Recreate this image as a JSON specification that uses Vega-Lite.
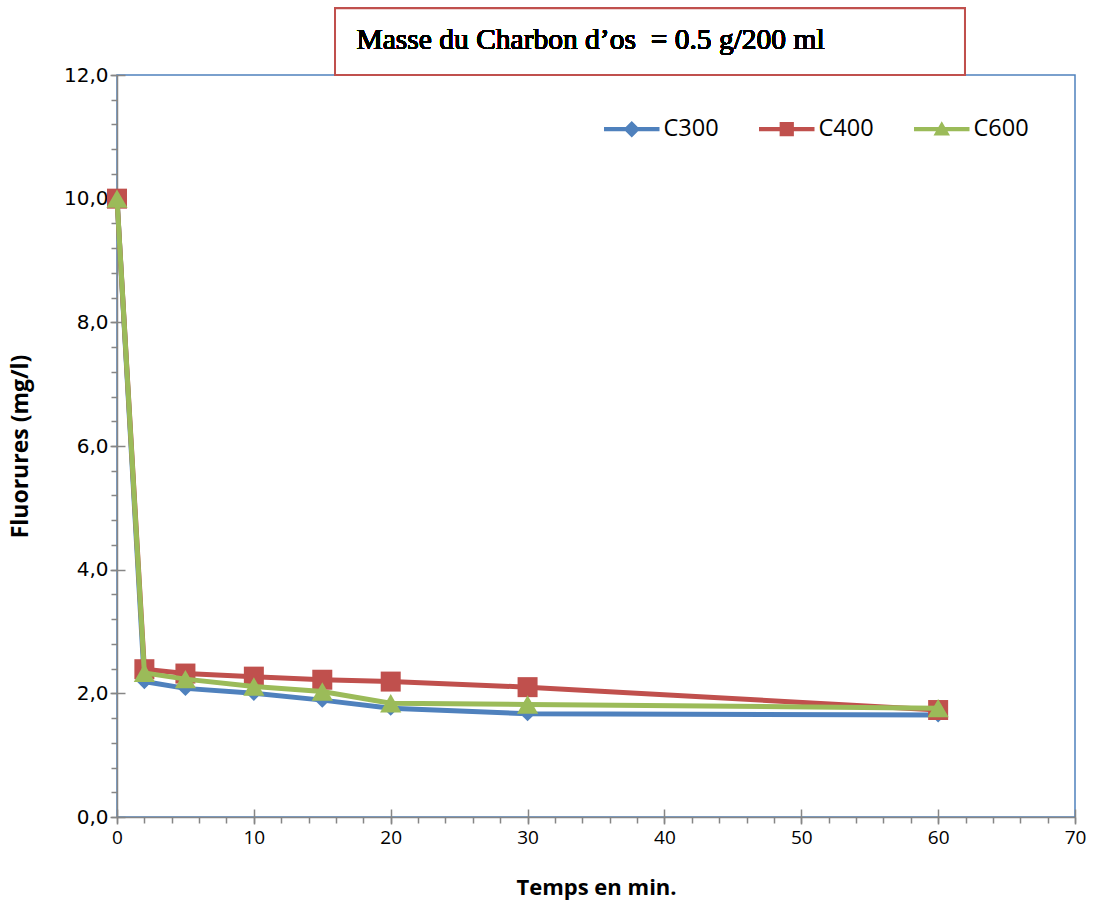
{
  "$schema": "https://vega.github.io/schema/vega-lite/v6.json",
  "width": 958,
  "height": 742,
  "autosize": {"type": "none"},
  "padding": {"left": 117, "top": 75, "right": 22, "bottom": 88},
  "background": "white",
  "config": {
    "view": {"stroke": "#4F81BD", "strokeWidth": 1.5},
    "axis": {"grid": false, "domainColor": "#868686", "tickColor": "#868686", "domainWidth": 1.5, "tickWidth": 1.5, "labelColor": "#000000", "titleColor": "#000000"}
  },
  "data": {
    "values": [
      {"series": "C300", "t": 0, "f": 10.0},
      {"series": "C300", "t": 2, "f": 2.19},
      {"series": "C300", "t": 5, "f": 2.08},
      {"series": "C300", "t": 10, "f": 2.0},
      {"series": "C300", "t": 15, "f": 1.89},
      {"series": "C300", "t": 20, "f": 1.76},
      {"series": "C300", "t": 30, "f": 1.67},
      {"series": "C300", "t": 60, "f": 1.65},
      {"series": "C400", "t": 0, "f": 10.0},
      {"series": "C400", "t": 2, "f": 2.39},
      {"series": "C400", "t": 5, "f": 2.32},
      {"series": "C400", "t": 10, "f": 2.27},
      {"series": "C400", "t": 15, "f": 2.22},
      {"series": "C400", "t": 20, "f": 2.19},
      {"series": "C400", "t": 30, "f": 2.1},
      {"series": "C400", "t": 60, "f": 1.73},
      {"series": "C600", "t": 0, "f": 10.0},
      {"series": "C600", "t": 2, "f": 2.33},
      {"series": "C600", "t": 5, "f": 2.23},
      {"series": "C600", "t": 10, "f": 2.11},
      {"series": "C600", "t": 15, "f": 2.03},
      {"series": "C600", "t": 20, "f": 1.84},
      {"series": "C600", "t": 30, "f": 1.82},
      {"series": "C600", "t": 60, "f": 1.76}
    ]
  },
  "resolve": {"axis": {"x": "independent", "y": "independent"}, "legend": {"color": "independent", "shape": "independent"}},
  "layer": [
    {
      "transform": [{"filter": "datum.series === 'C300'"}],
      "mark": {"type": "line", "strokeWidth": 5},
      "encoding": {
        "x": {"field": "t", "type": "quantitative", "scale": {"domain": [0, 70], "nice": false},
          "axis": {"orient": "bottom", "values": [0, 10, 20, 30, 40, 50, 60, 70], "tickSize": 7, "labelPadding": 4, "labelFlush": false,
            "labelFont": "Open Sans", "labelFontSize": 19, "title": "Temps en min.", "titleFont": "Open Sans",
            "titleFontSize": 22, "titleFontWeight": "bold", "titlePadding": 30}},
        "y": {"field": "f", "type": "quantitative", "scale": {"domain": [0, 12], "nice": false},
          "axis": {"orient": "left", "values": [0, 2, 4, 6, 8, 10, 12], "tickSize": 7, "labelPadding": 2, "labelFlush": false,
            "labelExpr": "replace(format(datum.value, '.1f'), '.', ',')",
            "labelFont": "DejaVu Sans", "labelFontSize": 20, "title": "Fluorures (mg/l)", "titleFont": "Open Sans",
            "titleFontSize": 23, "titleFontWeight": "bold", "titlePadding": 31}},
        "color": {"field": "series", "type": "nominal", "legend": null,
          "scale": {"domain": ["C300", "C400", "C600"], "range": ["#4F81BD", "#C0504D", "#9BBB59"]}}
      }
    },
    {
      "transform": [{"filter": "datum.series === 'C300'"}],
      "mark": {"type": "point", "shape": "diamond", "filled": true, "opacity": 1, "size": 230},
      "encoding": {
        "x": {"field": "t", "type": "quantitative", "scale": {"domain": [0, 70], "nice": false},
          "axis": {"orient": "bottom", "values": [0, 2, 4, 6, 8, 10, 12, 14, 16, 18, 20, 22, 24, 26, 28, 30, 32, 34, 36, 38, 40, 42, 44, 46, 48, 50, 52, 54, 56, 58, 60, 62, 64, 66, 68, 70],
            "tickSize": 6, "labels": false, "domain": false, "title": null}},
        "y": {"field": "f", "type": "quantitative", "scale": {"domain": [0, 12], "nice": false},
          "axis": {"orient": "left", "values": [0, 0.4, 0.8, 1.2, 1.6, 2, 2.4, 2.8, 3.2, 3.6, 4, 4.4, 4.8, 5.2, 5.6, 6, 6.4, 6.8, 7.2, 7.6, 8, 8.4, 8.8, 9.2, 9.6, 10, 10.4, 10.8, 11.2, 11.6, 12],
            "tickSize": 6, "labels": false, "domain": false, "title": null}},
        "color": {"field": "series", "type": "nominal", "legend": null}
      }
    },
    {
      "transform": [{"filter": "datum.series === 'C400'"}],
      "mark": {"type": "line", "strokeWidth": 5},
      "encoding": {
        "x": {"field": "t", "type": "quantitative", "scale": {"domain": [0, 70], "nice": false},
          "axis": {"orient": "bottom", "values": [0, 10, 20, 30, 40, 50, 60, 70], "tickSize": -8, "labels": false, "domain": false, "title": null}},
        "y": {"field": "f", "type": "quantitative", "scale": {"domain": [0, 12], "nice": false},
          "axis": {"orient": "left", "values": [0, 2, 4, 6, 8, 10, 12], "tickSize": -8, "labels": false, "domain": false, "title": null}},
        "color": {"field": "series", "type": "nominal", "legend": null}
      }
    },
    {
      "transform": [{"filter": "datum.series === 'C400'"}],
      "mark": {"type": "point", "shape": "square", "filled": true, "opacity": 1, "size": 400},
      "encoding": {
        "x": {"field": "t", "type": "quantitative", "scale": {"domain": [0, 70], "nice": false}, "axis": null},
        "y": {"field": "f", "type": "quantitative", "scale": {"domain": [0, 12], "nice": false}, "axis": null},
        "color": {"field": "series", "type": "nominal", "legend": null}
      }
    },
    {
      "transform": [{"filter": "datum.series === 'C600'"}],
      "mark": {"type": "line", "strokeWidth": 5},
      "encoding": {
        "x": {"field": "t", "type": "quantitative", "scale": {"domain": [0, 70], "nice": false}, "axis": null},
        "y": {"field": "f", "type": "quantitative", "scale": {"domain": [0, 12], "nice": false}, "axis": null},
        "color": {"field": "series", "type": "nominal", "legend": null}
      }
    },
    {
      "transform": [{"filter": "datum.series === 'C600'"}],
      "mark": {"type": "point", "shape": "triangle-up", "filled": true, "opacity": 1, "size": 450},
      "encoding": {
        "x": {"field": "t", "type": "quantitative", "scale": {"domain": [0, 70], "nice": false}, "axis": null},
        "y": {"field": "f", "type": "quantitative", "scale": {"domain": [0, 12], "nice": false}, "axis": null},
        "color": {"field": "series", "type": "nominal", "legend": null}
      }
    },
    {
      "transform": [{"filter": "datum.t > 1000"}],
      "mark": {"type": "point", "filled": true, "opacity": 1, "strokeWidth": 0},
      "encoding": {
        "x": {"field": "t", "type": "quantitative", "scale": {"domain": [0, 70], "nice": false}, "axis": null},
        "y": {"field": "f", "type": "quantitative", "scale": {"domain": [0, 12], "nice": false}, "axis": null},
        "color": {"field": "series", "type": "nominal",
          "legend": {"title": null, "orient": "none", "legendX": 503, "legendY": 42, "direction": "horizontal", "columns": 3,
            "symbolSize": 225, "symbolStrokeWidth": 0, "labelFont": "Open Sans", "labelFontSize": 23.5, "labelColor": "#000000",
            "labelOffset": 20, "columnPadding": 40, "padding": 0}},
        "shape": {"field": "series", "type": "nominal",
          "scale": {"domain": ["C300", "C400", "C600"], "range": [
            "M-3.7,-0.27H3.7V0.27H-3.7ZM0,-1.1L1.1,0L0,1.1L-1.1,0Z",
            "M-3.7,-0.27H3.7V0.27H-3.7ZM-0.95,-0.95H0.95V0.95H-0.95Z",
            "M-3.7,-0.27H3.7V0.27H-3.7ZM0,-1.05L1.1,0.85H-1.1Z"]},
          "legend": {"title": null, "orient": "none", "legendX": 503, "legendY": 42, "direction": "horizontal", "columns": 3,
            "symbolSize": 225, "symbolStrokeWidth": 0, "labelFont": "Open Sans", "labelFontSize": 23.5, "labelColor": "#000000",
            "labelOffset": 20, "columnPadding": 40, "padding": 0}}
      }
    },
    {
      "mark": {"type": "rect", "fill": "white", "stroke": "#C0504D", "strokeWidth": 2, "clip": false},
      "encoding": {
        "x": {"datum": 15.93, "type": "quantitative", "scale": {"domain": [0, 70], "nice": false}, "axis": null},
        "x2": {"datum": 61.96},
        "y": {"datum": 12.0, "type": "quantitative", "scale": {"domain": [0, 12], "nice": false}, "axis": null},
        "y2": {"datum": 13.08}
      }
    },
    {
      "mark": {"type": "text", "align": "left", "baseline": "middle", "font": "Times New Roman, Liberation Serif, serif", "fontSize": 29.5, "fontWeight": 400, "fill": "#000000", "clip": false},
      "encoding": {
        "x": {"datum": 17.5, "type": "quantitative", "scale": {"domain": [0, 70], "nice": false}, "axis": null},
        "y": {"datum": 12.57, "type": "quantitative", "scale": {"domain": [0, 12], "nice": false}, "axis": null},
        "text": {"value": "Masse du Charbon d’os \u00a0= 0.5 g/200 ml"}
      }
    }
  ]
}
